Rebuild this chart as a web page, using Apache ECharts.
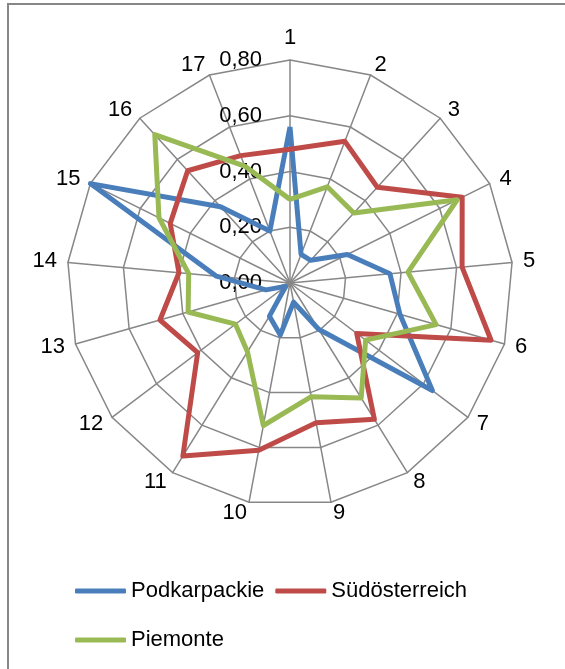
<!DOCTYPE html>
<html>
<head>
<meta charset="utf-8">
<script src="https://cdn.jsdelivr.net/npm/echarts@6/dist/echarts.min.js"></script>
<style>
  html, body { margin: 0; padding: 0; background: #fff; overflow: hidden; }
  #chart { position: absolute; left: 0; top: 0; width: 565px; height: 669px; }
  #frame { position: absolute; left: 7px; top: 3px; width: 700px; height: 800px;
           border: 2px solid #878787; pointer-events: none; }
</style>
</head>
<body>
<div id="chart"></div>
<div id="frame"></div>
<script>
// axis names, clockwise from the top
const categories = ['1', '2', '3', '4', '5', '6', '7', '8', '9', '10', '11', '12', '13', '14', '15', '16', '17'];
const tickLabels = ['0,00', '0,20', '0,40', '0,60', '0,80'];

const podkarpackie = [0.56, 0.11, 0.11, 0.23, 0.36, 0.41, 0.64, 0.195, 0.07, 0.19, 0.14, 0.02, 0.09, 0.265, 0.80, 0.37, 0.20];
const suedoesterreich = [0.48, 0.545, 0.465, 0.69, 0.62, 0.75, 0.30, 0.575, 0.51, 0.61, 0.73, 0.415, 0.485, 0.40, 0.48, 0.545, 0.49];
const piemonte = [0.30, 0.37, 0.34, 0.67, 0.425, 0.545, 0.34, 0.485, 0.415, 0.52, 0.29, 0.245, 0.38, 0.365, 0.525, 0.72, 0.45];

const FONT = '"Liberation Sans", Arial, sans-serif';

// echarts lays indicators out counter-clockwise, so reorder to get 1,2,3... clockwise
const order = [0];
for (let i = categories.length - 1; i >= 1; i--) order.push(i);
const reorder = arr => order.map(i => arr[i]);

const indicator = order.map((i, k) => {
  const ind = { name: categories[i], min: 0, max: 0.8 };
  if (k === 0) ind.axisLabel = { show: true };
  return ind;
});

const chart = echarts.init(document.getElementById('chart'), null, { renderer: 'canvas' });

const option = {
  animation: false,
  textStyle: { fontFamily: FONT },
  radar: {
    center: [290, 283],
    radius: 223,
    startAngle: 90,
    shape: 'polygon',
    splitNumber: 4,
    indicator: indicator,
    axisName: { color: '#000', fontSize: 22, fontFamily: FONT },
    nameGap: 11,
    axisLine: { lineStyle: { color: '#878787', width: 1.5 } },
    splitLine: { lineStyle: { color: '#878787', width: 1.5 } },
    splitArea: { show: false },
    axisTick: { show: false },
    axisLabel: {
      show: false,
      color: '#000',
      fontSize: 22,
      fontFamily: FONT,
      margin: 28,
      formatter: (v) => tickLabels[Math.round(v / 0.2)]
    }
  },
  legend: [
    {
      data: ['Podkarpackie', 'Südösterreich'],
      left: 70,
      top: 575,
      itemWidth: 51,
      itemHeight: 5,
      itemGap: 11,
      icon: 'roundRect',
      textStyle: { color: '#000', fontSize: 22, fontFamily: FONT }
    },
    {
      data: ['Piemonte'],
      left: 70,
      top: 624,
      itemWidth: 51,
      itemHeight: 5,
      icon: 'roundRect',
      textStyle: { color: '#000', fontSize: 22, fontFamily: FONT }
    }
  ],
  series: [{
    type: 'radar',
    symbol: 'none',
    silent: true,
    data: [
      { name: 'Podkarpackie', value: reorder(podkarpackie),
        lineStyle: { color: '#4a7ebb', width: 5 }, itemStyle: { color: '#4a7ebb' } },
      { name: 'Südösterreich', value: reorder(suedoesterreich),
        lineStyle: { color: '#be4b48', width: 5 }, itemStyle: { color: '#be4b48' } },
      { name: 'Piemonte', value: reorder(piemonte),
        lineStyle: { color: '#98b954', width: 5 }, itemStyle: { color: '#98b954' } }
    ]
  }]
};

chart.setOption(option);
</script>
</body>
</html>
